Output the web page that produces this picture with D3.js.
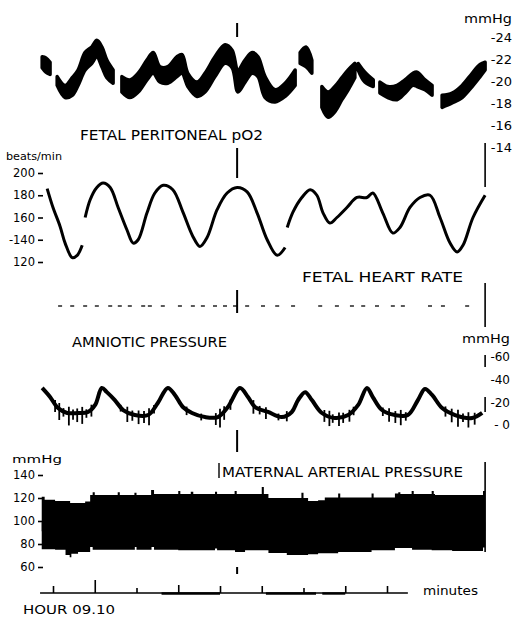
<!DOCTYPE html>
<html>
<head>
<meta charset="utf-8">
<title>Fetal recording</title>
<script src="https://cdn.jsdelivr.net/npm/d3@7"></script>
<style>
  body { margin: 0; background: #fff; }
  svg text { font-family: "DejaVu Sans", sans-serif; fill: #000; }
  .ax line { stroke: #000; stroke-width: 1.6; }
  .ax text { fill: #000; }
</style>
</head>
<body>
<svg id="chart" width="515" height="617"></svg>
<script>
// time in minutes, null = pen lifted
var pO2Time   = [0.74,0.83,0.93,null, 1.10,1.29,1.46,1.60,1.77,1.93,2.05,2.17,2.29,2.44,null,
  2.65,2.84,3.04,3.25,3.40,3.56,3.75,3.97,4.09,4.23,4.45,4.64,4.88,5.12,5.29,5.43,5.60,5.77,5.91,6.08,6.32,6.56,6.80,null,
  6.92,7.06,7.20,null, 7.44,7.59,7.75,7.92,8.07,8.23,null, 8.31,8.47,8.67,null,
  8.83,9.02,9.24,9.43,9.62,9.72,9.91,10.08,null, 10.32,10.56,10.80,11.04,11.23,11.35];
var pO2Top    = [22.2,22.1,21.7,null, 20.4,19.6,20.3,21.0,22.6,23.1,23.7,23.1,21.9,21.0,null,
  20.4,20.1,20.7,21.9,22.6,21.3,21.3,22.2,22.4,20.7,19.9,20.7,22.2,23.3,22.8,21.0,21.9,22.6,22.2,20.4,19.2,19.8,21.0,null,
  22.6,23.1,21.9,null, 19.5,19.0,19.5,20.3,21.0,21.6,null, 21.6,20.8,20.1,null,
  19.9,19.5,19.6,20.1,20.7,20.8,20.1,19.6,null, 18.7,18.9,19.6,20.7,21.5,21.7];
var pO2Bottom = [21.2,20.8,20.6,null, 19.6,18.5,18.7,19.6,21.0,21.6,22.2,21.3,20.3,19.8,null,
  19.0,18.5,19.0,20.1,20.7,19.9,19.8,20.4,20.7,19.5,18.6,19.0,20.4,21.6,21.2,19.0,19.9,20.7,20.4,18.5,18.1,18.6,19.6,null,
  21.6,21.3,20.7,null, 17.6,16.7,17.2,18.3,19.2,20.3,null, 21.0,19.9,19.5,null,
  18.9,18.5,18.3,18.9,19.6,19.5,19.2,18.7,null, 17.6,18.0,18.5,19.5,20.4,21.0];

var fhrTime  = [0.86,1.00,1.17,1.29,1.46,1.58,1.70,null,
  1.77,1.89,2.05,2.20,2.37,2.56,2.77,2.92,3.04,3.25,3.44,3.64,3.87,4.11,4.35,4.52,4.69,4.93,5.17,5.41,5.65,5.89,6.13,6.37,6.56,null,
  6.61,6.75,6.96,7.16,7.32,7.47,7.63,7.80,8.04,8.28,8.52,8.66,8.90,9.14,9.31,9.55,9.79,10.03,10.27,10.51,10.68,10.82,11.06,11.35];
var fhrValue = [186,169,152,137,124,126,135,null,
  160,176,187,191,187,169,149,137,140,164,182,189,185,165,143,134,142,167,182,187,183,164,140,126,133,null,
  151,165,178,185,180,164,155,160,169,178,178,182,164,146,151,169,178,180,160,137,129,135,160,180];

var amnTime  = [0.74,0.93,1.12,1.34,1.60,1.84,2.01,2.17,2.29,2.48,2.68,2.96,3.28,3.51,3.75,3.92,4.11,4.33,4.64,4.95,
  5.19,5.48,5.67,5.84,6.15,6.48,6.72,6.87,7.04,7.20,7.44,7.75,8.07,8.31,8.52,8.66,8.88,9.19,9.50,9.74,
  9.91,10.08,10.32,10.63,11.04,11.28];
var amnValue = [32.7,24.7,15,10.6,10.6,11.5,17.7,32.7,29,22,13.2,8.8,8.8,19.4,32.7,26.5,15.9,10.6,7,7,
  15.9,32.7,24.7,15.9,11.5,7,11.5,22,29,22,10.6,6.2,8.8,17.7,32.7,24.7,13.2,8.8,8.8,22,
  31.8,26.5,15,8.8,6.2,10.6];
// artefact spikes below the amniotic trace (mmHg)
var amnSpikeTime  = [1.05,1.15,1.25,1.38,1.48,1.58,1.70,1.80,1.92, 2.62,2.78,2.90,3.05,3.18,3.30,3.42,
  4.20,4.55,4.90,5.00,5.10,5.25, 5.80,5.95,6.10,6.40,6.60, 7.50,7.62,7.70,7.85,7.95,8.10,8.20,
  8.90,9.05,9.20,9.33,9.45, 10.40,10.55,10.70,10.82,10.95,11.10];
var amnSpikeDepth = [7,10,5,11,6,8,10,5,7, 4,9,6,8,7,10,5,
  5,4,7,11,8,6, 8,5,7,4,6, 7,9,5,8,6,7,5,
  5,8,7,9,5, 6,8,10,5,9,7];

var mapTopTime = [0.73,0.80,1.05,1.41,1.77,1.89,1.95,2.00,2.55,2.60,2.95,3.00,3.35,3.42,4.00,4.05,4.30,4.36,4.88,4.93,
  5.35,5.40,6.00,6.05,6.16,6.95,7.00,7.11,7.35,7.51,7.83,7.88,8.63,8.68,9.19,9.27,9.32,9.59,9.64,10.07,10.12,10.15,11.30,11.35];
var mapTop     = [121,118.5,117.5,115.7,117,122.6,125,122.6,125,122.6,124.5,122.6,127,123.5,126,123.5,125.5,123.5,125.5,123.5,
  126,123.5,129.5,123.5,120,124.5,120,117.5,118,120.5,124,120.5,124,120.5,124,125,123.5,126,123.5,126,123.5,122.6,126,122.6];
var mapBottomTime = [0.73,1.05,1.30,1.40,1.44,1.60,1.89,1.95,2.55,2.96,3.00,3.36,3.42,4.00,4.88,4.93,5.36,5.60,6.16,6.60,
  7.11,7.35,7.83,8.63,9.19,9.60,10.07,10.56,11.30,11.35];
var mapBottom     = [75.5,75,70.5,68.5,71.5,73,77.5,75,75,77.5,75,77.5,75,74.5,76,74.5,73,74.5,72.2,70.4,
  71,72,73,74.5,76.5,75,74.5,74,77,76];

// event-marker channel dashes
var markTime = [1.17,1.46,1.77,2.05,2.37,2.60,2.84,3.16,3.32,3.63,4.04,4.35,4.59,4.88,5.12,5.36,5.65,6.03,6.37,6.75,
  7.40,7.80,8.16,8.43,8.76,9.14,9.38,10.03,10.34,10.92];
var minuteTicks = [1,2,3,4,5,6,7,8,9];
var eventTime = 5.41;

var svg = d3.select("#chart");

var x    = d3.scaleLinear().domain([0, 12]).range([11.25, 512.25]);
var yPo2 = d3.scaleLinear().domain([14, 24]).range([147, 37]);
var yFhr = d3.scaleLinear().domain([120, 200]).range([262, 173]);
var yAmn = d3.scaleLinear().domain([0, 60]).range([425, 357]);
var yMap = d3.scaleLinear().domain([60, 140]).range([567, 475]);

function rows(t, a, b) {
  return t.map(function(d, i) { return {t: d, a: a[i], b: b ? b[i] : null}; });
}

// --- fetal peritoneal pO2 (band) ---
var po2Area = d3.area()
    .defined(function(d) { return d.t !== null; })
    .x(function(d) { return x(d.t); })
    .y0(function(d) { return yPo2(d.b); })
    .y1(function(d) { return yPo2(d.a); })
    .curve(d3.curveCatmullRom);
svg.append("path")
    .datum(rows(pO2Time, pO2Top, pO2Bottom))
    .attr("d", po2Area)
    .attr("fill", "#000").attr("stroke", "#000").attr("stroke-width", 3.5).attr("stroke-linejoin", "round");

svg.append("g").attr("class", "ax").attr("transform", "translate(484,0)")
    .call(d3.axisRight(yPo2).tickValues([14,16,18,20,22,24]).tickSize(0).tickPadding(0)
      .tickFormat(function(d) { return "-" + d; }))
    .call(function(g) { g.select(".domain").remove(); })
    .selectAll("text").attr("font-size", 13).attr("text-anchor", "end").attr("x", 28);

// --- fetal heart rate ---
var fhrLine = d3.line()
    .defined(function(d) { return d.t !== null; })
    .x(function(d) { return x(d.t); })
    .y(function(d) { return yFhr(d.a); })
    .curve(d3.curveCatmullRom);
svg.append("path")
    .datum(rows(fhrTime, fhrValue))
    .attr("d", fhrLine)
    .attr("fill", "none").attr("stroke", "#000").attr("stroke-width", 3);

svg.append("g").attr("class", "ax").attr("transform", "translate(43,0)")
    .call(d3.axisLeft(yFhr).tickValues([120,140,160,180,200]).tickSize(5).tickPadding(3)
      .tickFormat(function(d) { return d === 140 ? "-140" : d; }))
    .call(function(g) { g.select(".domain").remove(); })
    .selectAll("text").attr("font-size", 11.5);

// --- amniotic pressure ---
var amnRows = rows(amnTime, amnValue);
var amnLine = d3.line()
    .x(function(d) { return x(d.t); })
    .y(function(d) { return yAmn(d.a); })
    .curve(d3.curveCatmullRom);
svg.append("path")
    .datum(amnRows)
    .attr("d", amnLine)
    .attr("fill", "none").attr("stroke", "#000").attr("stroke-width", 4);

var amnAt = d3.scaleLinear().domain(amnTime).range(amnValue);
svg.append("g").selectAll("line")
    .data(rows(amnSpikeTime, amnSpikeDepth))
  .enter().append("line")
    .attr("x1", function(d) { return x(d.t); })
    .attr("x2", function(d) { return x(d.t); })
    .attr("y1", function(d) { return yAmn(amnAt(d.t) + d.a * 0.5); })
    .attr("y2", function(d) { return yAmn(amnAt(d.t) - d.a); })
    .attr("stroke", "#000").attr("stroke-width", 1.8);

svg.append("g").attr("class", "ax").attr("transform", "translate(489,0)")
    .call(d3.axisRight(yAmn).tickValues([0,20,40,60]).tickSize(0).tickPadding(0)
      .tickFormat(function(d) { return d === 0 ? "- 0" : "-" + d; }))
    .call(function(g) { g.select(".domain").remove(); })
    .selectAll("text").attr("font-size", 12).attr("text-anchor", "end").attr("x", 21);

// --- maternal arterial pressure (dense band) ---
var mid = 95;
var topArea = d3.area()
    .x(function(d) { return x(d.t); })
    .y0(yMap(mid - 4))
    .y1(function(d) { return yMap(d.a); })
    .curve(d3.curveStepAfter);
var bottomArea = d3.area()
    .x(function(d) { return x(d.t); })
    .y0(yMap(mid + 4))
    .y1(function(d) { return yMap(d.a); })
    .curve(d3.curveStepAfter);
svg.append("path").datum(rows(mapTopTime, mapTop)).attr("d", topArea).attr("fill", "#000");
svg.append("path").datum(rows(mapBottomTime, mapBottom)).attr("d", bottomArea).attr("fill", "#000");

svg.append("g").attr("class", "ax").attr("transform", "translate(43,0)")
    .call(d3.axisLeft(yMap).tickValues([60,80,100,120,140]).tickSize(5).tickPadding(3))
    .call(function(g) { g.select(".domain").remove(); })
    .selectAll("text").attr("font-size", 11.5);

// --- minutes time base ---
var tickLen = [7,13,5,8,7,7,5,7,7];
var tb = svg.append("g").attr("class", "ax").attr("transform", "translate(0,593)")
    .call(d3.axisTop(x).tickValues(minuteTicks).tickSize(6).tickFormat(""));
tb.select(".domain").remove();
tb.selectAll(".tick line").attr("y2", function(d, i) { return -tickLen[i]; });
svg.append("line")
    .attr("x1", x(0.69)).attr("x2", x(9.5)).attr("y1", 593).attr("y2", 593)
    .attr("stroke", "#000").attr("stroke-width", 1.4);
[[3.6, 5.0], [6.1, 7.3], [7.45, 8.0]].forEach(function(s) {
  svg.append("line")
      .attr("x1", x(s[0])).attr("x2", x(s[1])).attr("y1", 593.5).attr("y2", 593.5)
      .attr("stroke", "#000").attr("stroke-width", 2.4);
});

// marker channel
svg.append("g").selectAll("line")
    .data(markTime)
  .enter().append("line")
    .attr("x1", function(d) { return x(d) - 2; })
    .attr("x2", function(d) { return x(d) + 2; })
    .attr("y1", 306).attr("y2", 306)
    .attr("stroke", "#000").attr("stroke-width", 1.3);

// event marks
[[23, 37], [148, 178], [290, 313], [430, 452], [567, 574]].forEach(function(r) {
  svg.append("line")
      .attr("x1", x(eventTime)).attr("x2", x(eventTime)).attr("y1", r[0]).attr("y2", r[1])
      .attr("stroke", "#000").attr("stroke-width", 2);
});
[[143, 187], [283, 327], [355, 367], [397, 412], [462, 552]].forEach(function(r) {
  svg.append("line")
      .attr("x1", x(11.35)).attr("x2", x(11.35)).attr("y1", r[0]).attr("y2", r[1])
      .attr("stroke", "#000").attr("stroke-width", 1.6);
});
svg.append("line").attr("x1", 219).attr("x2", 219).attr("y1", 463).attr("y2", 478)
    .attr("stroke", "#000").attr("stroke-width", 1.4);

// labels
var labels = [
  {t: "mmHg", x: 512, y: 23, s: 12, w: 48, a: "end"},
  {t: "FETAL PERITONEAL pO2", x: 80, y: 140, s: 14, w: 183},
  {t: "beats/min", x: 6, y: 160, s: 11, w: 56},
  {t: "FETAL HEART RATE", x: 302, y: 282, s: 14, w: 161},
  {t: "AMNIOTIC PRESSURE", x: 72, y: 347, s: 14, w: 155},
  {t: "mmHg", x: 510, y: 343, s: 12, w: 48, a: "end"},
  {t: "mmHg", x: 12, y: 463, s: 11, w: 50},
  {t: "MATERNAL ARTERIAL PRESSURE", x: 222, y: 477, s: 14, w: 241},
  {t: "minutes", x: 423, y: 595, s: 12, w: 55},
  {t: "HOUR 09.10", x: 23, y: 614, s: 13, w: 92}
];
svg.append("g").selectAll("text")
    .data(labels)
  .enter().append("text")
    .attr("x", function(d) { return d.x; })
    .attr("y", function(d) { return d.y; })
    .attr("font-size", function(d) { return d.s; })
    .attr("text-anchor", function(d) { return d.a || "start"; })
    .attr("textLength", function(d) { return d.w; })
    .attr("lengthAdjust", "spacingAndGlyphs")
    .text(function(d) { return d.t; });
</script>
</body>
</html>
